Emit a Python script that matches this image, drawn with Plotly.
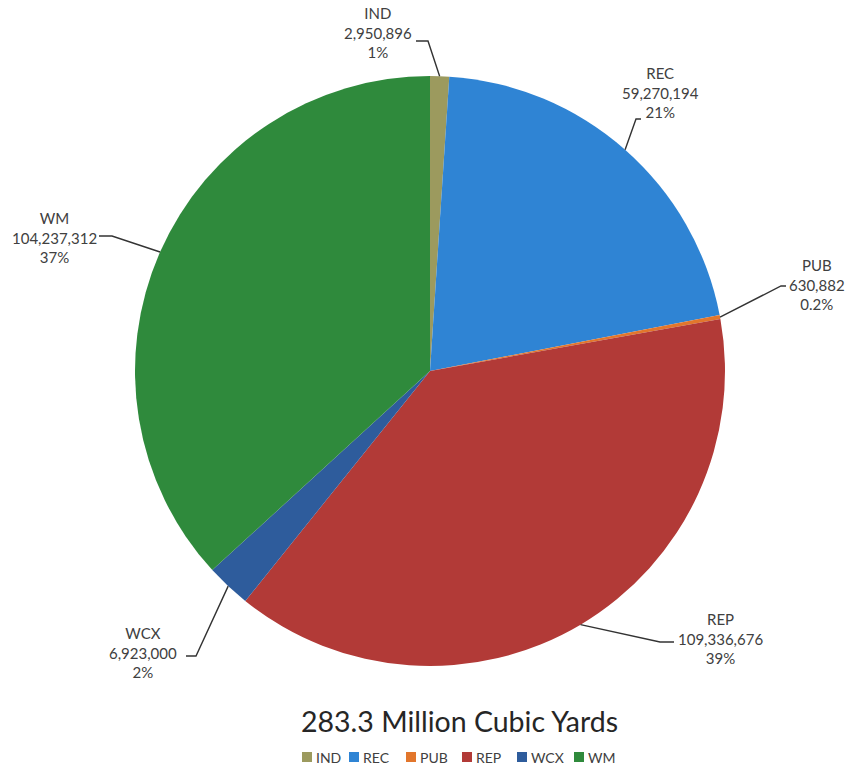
import math
import plotly.graph_objects as go

categories = ["IND", "REC", "PUB", "REP", "WCX", "WM"]
values = [2950896, 59270194, 630882, 109336676, 6923000, 104237312]
pct_labels = ["1%", "21%", "0.2%", "39%", "2%", "37%"]
colors = ["#9c9a5e", "#2f84d4", "#e2762c", "#b23a37", "#2e5c9c", "#2f8a3c"]
title_text = "283.3 Million Cubic Yards"

W, H = 848, 771
CX, CY, R = 430, 371, 295  # pie centre / radius in px

# label placement (px): text centre, leader elbow, leader end
label_pos = {
    "IND": ((378, 33), (428, 41), (416, 41)),
    "REC": ((660, 92), (636, 119), (641, 119)),
    "PUB": ((817, 284), (781, 286), (786, 286)),
    "WM":  ((54, 237), (112, 236), (99, 236)),
    "WCX": ((143, 652), (196, 656), (186, 656)),
    "REP": ((720, 638), (660, 642), (674, 642)),
}

def px(x):
    return x / W

def py(y):
    return 1 - y / H

fig = go.Figure(go.Pie(
    labels=categories,
    values=values,
    sort=False,
    direction="clockwise",
    rotation=0,
    marker=dict(colors=colors, line=dict(width=0)),
    textinfo="none",
    hoverinfo="label+value+percent",
    domain=dict(x=[px(CX - R), px(CX + R)], y=[py(CY + R), py(CY - R)]),
    showlegend=False,
))

total = sum(values)
cum = 0
annotations = []
shapes = []
for cat, v, pl in zip(categories, values, pct_labels):
    mid = (cum + v / 2) / total * 2 * math.pi
    cum += v
    ex = CX + R * math.sin(mid)
    ey = CY - R * math.cos(mid)
    (tx, ty), (bx, by), (qx, qy) = label_pos[cat]
    shapes.append(dict(
        type="path", xref="paper", yref="paper",
        path=f"M {px(ex)},{py(ey)} L {px(bx)},{py(by)} L {px(qx)},{py(qy)}",
        line=dict(color="#333333", width=1.4),
    ))
    annotations.append(dict(
        x=px(tx), y=py(ty), xref="paper", yref="paper",
        text=f"{cat}<br>{v:,}<br>{pl}", showarrow=False,
        xanchor="center", yanchor="middle", align="center",
        font=dict(family="Lato, Open Sans, sans-serif", size=15, color="#404040"),
    ))

annotations.append(dict(
    x=px(459), y=py(721), xref="paper", yref="paper", text=title_text,
    showarrow=False, xanchor="center", yanchor="middle",
    font=dict(family="Lato, Open Sans, sans-serif", size=28.5, color="#262626"),
))

# custom legend (swatch + text)
legend_x = [302, 349, 406, 462, 517, 574]
LEG_Y, SW = 757, 10
for cat, col, lx in zip(categories, colors, legend_x):
    shapes.append(dict(
        type="rect", xref="paper", yref="paper",
        x0=px(lx), x1=px(lx + SW), y0=py(LEG_Y + SW / 2), y1=py(LEG_Y - SW / 2),
        fillcolor=col, line=dict(width=0),
    ))
    annotations.append(dict(
        x=px(lx + SW + 2), y=py(LEG_Y), xref="paper", yref="paper",
        text=cat, showarrow=False, xanchor="left", yanchor="middle",
        font=dict(family="Lato, Open Sans, sans-serif", size=14, color="#404040"),
    ))

fig.update_layout(
    width=W, height=H,
    margin=dict(l=0, r=0, t=0, b=0),
    paper_bgcolor="white",
    plot_bgcolor="white",
    annotations=annotations,
    shapes=shapes,
)

fig.write_html("out.html")
